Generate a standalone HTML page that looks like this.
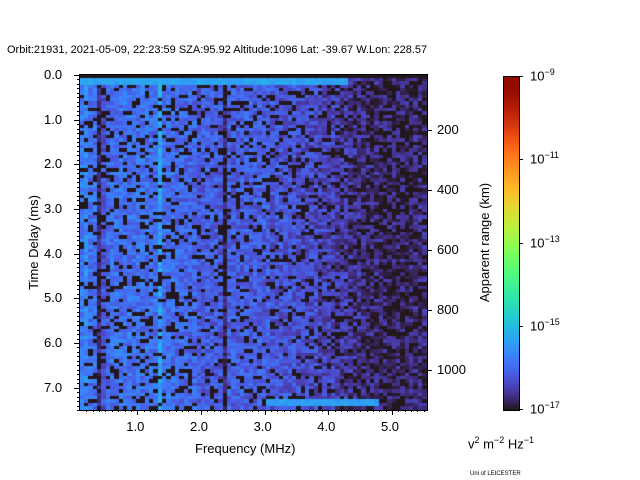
<!DOCTYPE html>
<html><head><meta charset="utf-8"><style>
body{margin:0;background:#fff;font-family:"Liberation Sans","DejaVu Sans",sans-serif;}
#w{position:relative;width:640px;height:480px;overflow:hidden;}
.t{position:absolute;font-size:13px;color:#000;white-space:nowrap;}
.tk{position:absolute;background:#000;}
sup{font-size:9px;}
</style></head><body>
<div id="w">
<div class="t" style="left:7px;top:44px;font-size:11px">Orbit:21931, 2021-05-09, 22:23:59 SZA:95.92 Altitude:1096 Lat: -39.67 W.Lon: 228.57</div>
<canvas id="hm" width="347" height="335" style="position:absolute;left:80px;top:75px"></canvas>
<div style="position:absolute;left:79px;top:74px;width:347px;height:335px;border:1px solid #000"></div>
<canvas id="cb" width="15" height="333" style="position:absolute;left:503px;top:76px;border:1px solid #000"></canvas>
<div id="ax"></div>
<div class="t" style="left:195px;top:441px">Frequency (MHz)</div>
<div class="t" style="left:-14px;top:235px;transform:rotate(-90deg)">Time Delay (ms)</div>
<div class="t" style="left:425px;top:235px;transform:rotate(-90deg)">Apparent range (km)</div>
<div class="t" style="left:468px;top:435px">v<sup>2</sup> m<sup>−2</sup> Hz<sup>−1</sup></div>
<div class="t" style="left:470px;top:471px;font-size:6px">Uni of LEICESTER</div>
</div>
<script>
const xTicks=[1.0,2.0,3.0,4.0,5.0];
const yTicks=[0.0,1.0,2.0,3.0,4.0,5.0,6.0,7.0];
const rTicks=[200,400,600,800,1000];
const cbTicks=[-9,-11,-13,-15,-17];
const colLevel=[-15.9,-15.7,-16.0,-16.0,-16.9,-16.3,-16.1,-16.0,-16.0,-16.0,-16.0,-16.0,-16.0,-16.0,-16.0,-16.0,-16.0,-16.0,-15.4,-16.0,-16.0,-16.0,-16.1,-16.1,-16.1,-16.1,-16.1,-16.2,-16.2,-16.2,-16.2,-16.2,-16.3,-16.95,-16.2,-16.2,-16.2,-16.2,-16.2,-16.2,-16.2,-16.2,-16.2,-16.2,-16.3,-16.3,-16.3,-16.3,-16.3,-16.3,-16.4,-16.4,-16.4,-16.4,-16.4,-16.5,-16.5,-16.5,-16.5,-16.6,-16.6,-16.6,-16.7,-16.7,-16.7,-16.8,-16.8,-16.8,-16.8,-16.85,-16.85,-16.85,-16.85,-16.85,-16.85,-16.85,-16.85,-16.8,-16.8,-16.8];
const topRow={fmax:4.3,level:-15.3};
const bottomBand={fmin:3.0,fmax:4.8,tmin:7.25,tmax:7.45,level:-15.4};
const f0=0.1,f1=5.55,t0=0,t1=7.5;
const X=f=>80+(f-f0)/(f1-f0)*347, Y=t=>75+(t-t0)/(t1-t0)*335;
const ax=document.getElementById('ax');
function add(cls,st,txt,name){const d=document.createElement('div');d.className=cls;d.style.cssText=st;if(txt!==undefined)d.innerHTML=txt;


ax.appendChild(d);}
xTicks.forEach(v=>{add('tk',`left:${X(v)}px;top:410px;width:1px;height:5px`,undefined,'x-tick');add('t',`left:${X(v)-11}px;top:419px`,v.toFixed(1),'x-tick-label');});
for(let f=0.2;f<5.55;f+=0.1){add('tk',`left:${X(f)}px;top:410px;width:1px;height:2px`,undefined,'x-minor-tick');}
yTicks.forEach(v=>{add('tk',`left:74px;top:${Y(v)}px;width:5px;height:1px`,undefined,'y-tick');add('t',`left:44px;top:${Y(v)-8}px`,v.toFixed(1),'y-tick-label');});
for(let t=0.1;t<7.5;t+=0.1){add('tk',`left:77px;top:${Y(t)}px;width:2px;height:1px`,undefined,'y-minor-tick');}
const R=k=>70+k*0.3;
rTicks.forEach(v=>{add('tk',`left:427px;top:${R(v)}px;width:5px;height:1px`,undefined,'right-tick');add('t',`left:437px;top:${R(v)-8}px`,String(v),'right-tick-label');});
cbTicks.forEach(v=>{const y=76+(-9-v)/8*333;add('tk',`left:519px;top:${y}px;width:4px;height:1px`,undefined,'colorbar-tick');add('t',`left:530px;top:${y-9}px`,`10<sup>${String(v).replace('-','−')}</sup>`,'colorbar-tick-label');});
function turbo(t){t=Math.max(0,Math.min(1,t));
const r=34.61+t*(1172.33-t*(10793.56-t*(33300.12-t*(38394.49-t*14825.05))));
const g=23.31+t*(557.33+t*(1225.33-t*(3574.96-t*(1073.77+t*707.56))));
const b=27.2+t*(3211.1-t*(15327.97-t*(27814-t*(22569.18-t*6838.66))));
return `rgb(${r|0},${g|0},${b|0})`;}
const lv=v=>(v+17)/8;
function hash(i,j){let h=(i*374761393+j*668265263)^0x5bd1e995;h=(h^(h>>>13))*1274126177;h=h^(h>>>16);return (h>>>0)/4294967295;}
const c=document.getElementById('hm').getContext('2d');
const nc=colLevel.length,nr=100,cw=347/nc,rh=335/nr;
for(let i=0;i<nc;i++){const f=f0+(i+0.5)*(f1-f0)/nc;
for(let j=0;j<nr;j++){const t=t0+(j+0.5)*(t1-t0)/nr;let v=colLevel[i];
const h=hash(i,j);
if(h<0.2)v=-17;else v+=(h-0.5)*0.8;
if(j===0)v=-17;
if((j===1||j===2)&&f<topRow.fmax)v=topRow.level+(h-0.5)*0.3;
if(t>bottomBand.tmin&&t<bottomBand.tmax&&f>bottomBand.fmin&&f<bottomBand.fmax)v=bottomBand.level+(h-0.5)*0.3;
c.fillStyle=turbo(lv(v));c.fillRect(Math.floor(i*cw),Math.floor(j*rh),Math.ceil(cw)+1,Math.ceil(rh)+1);}}
const cb=document.getElementById('cb').getContext('2d');
for(let y=0;y<333;y++){cb.fillStyle=turbo(1-y/332);cb.fillRect(0,y,15,1);}
</script>
</body></html>
